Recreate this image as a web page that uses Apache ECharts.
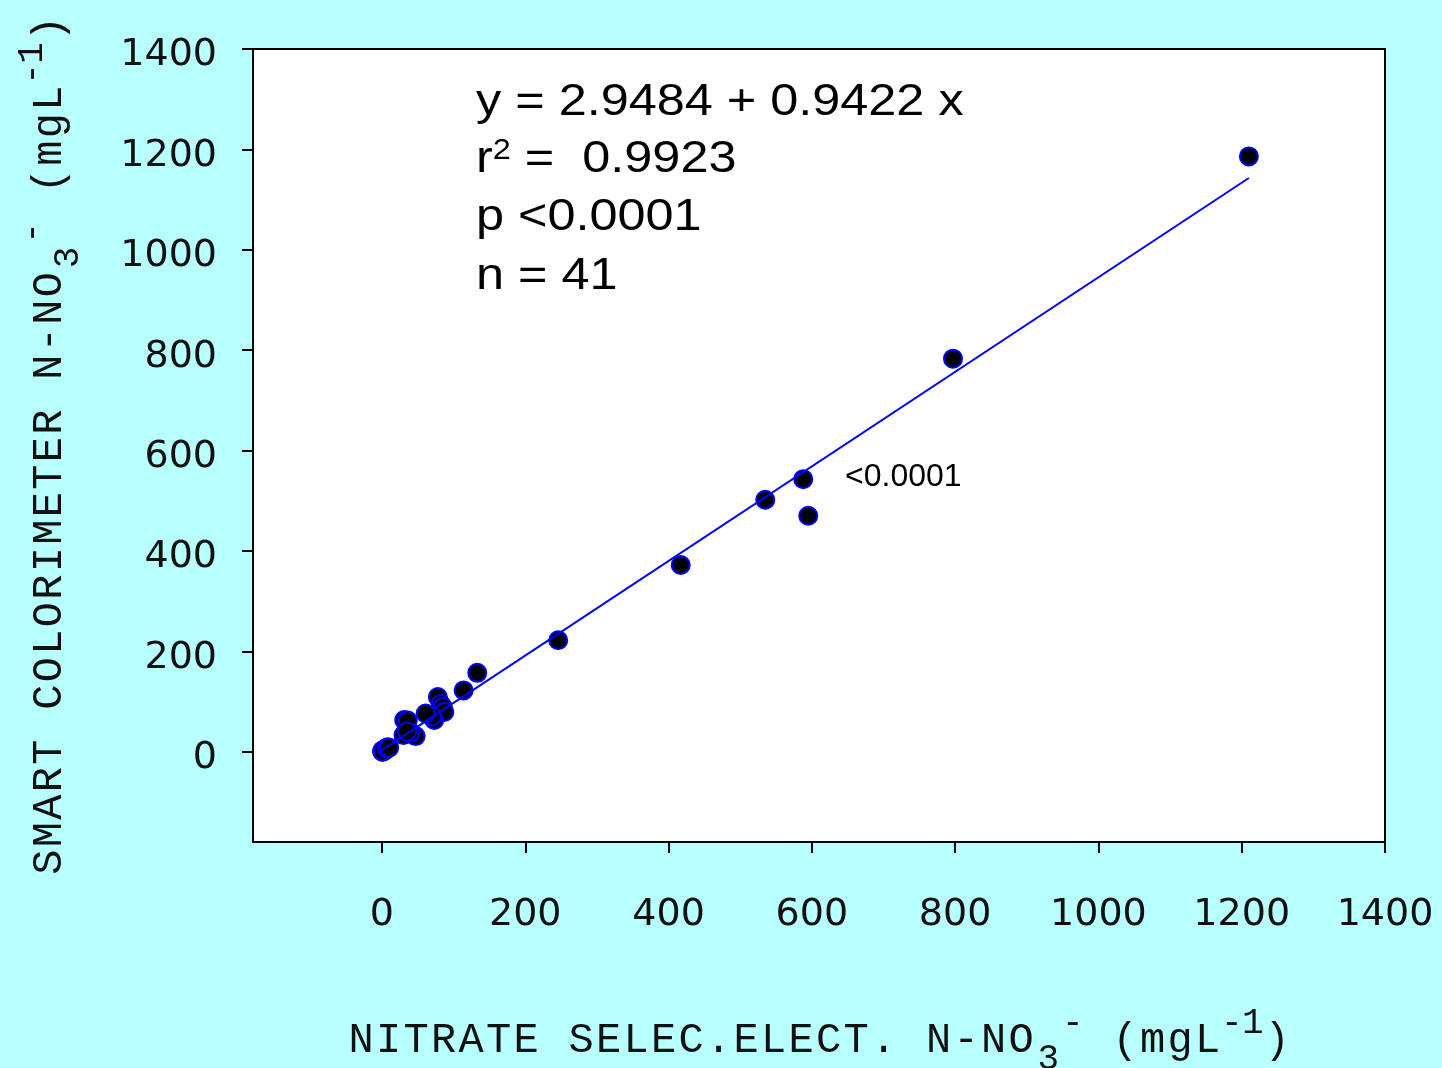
<!DOCTYPE html>
<html>
<head>
<meta charset="utf-8">
<script src="https://cdn.jsdelivr.net/npm/echarts@6/dist/echarts.min.js"></script>
<style>
html,body{margin:0;padding:0;background:#b8ffff;}
#chart{width:1442px;height:1068px;}
</style>
</head>
<body>
<div id="chart"></div>
<script>
// ---- data ----
const xValues = [1210, 797, 588, 595, 535, 417, 246, 133, 114,
  78, 82, 85, 87, 73, 70, 61, 31, 36, 30, 47, 40, 35,
  8, 5, 2, 1, 0.5, 3, 1.5, 0.8, 2.5, 4, 0.3, 6, 1, 2, 0.6, 3.5, 1.2, 7, 10];
const yValues = [1186, 783, 543, 470, 502, 372, 222, 157, 122,
  109, 95, 89, 79, 63, 70, 76, 63, 62, 33, 31, 38, 40,
  9, 6, 3, 1, 0.5, 2, 2, 1.2, 1, 4, 0.4, 5, 2.5, 0.8, 1.6, 3, 0.3, 6.5, 8];
const fitIntercept = 2.9484;
const fitSlope = 0.9422;
const fitRange = [0, 1210];
const xTickValues = [0, 200, 400, 600, 800, 1000, 1200, 1400];
const yTickValues = [0, 200, 400, 600, 800, 1000, 1200, 1400];
const statLines = ['y = 2.9484 + 0.9422 x', 'r2 =  0.9923', 'p <0.0001', 'n = 41'];
const pointNote = '<0.0001';

const points = xValues.map((x, i) => [x, yValues[i]]);
const fitLine = fitRange.map(x => [x, fitIntercept + fitSlope * x]);

// spaced monospace-style title text built with rich tokens
function spaced(str) {
  return str.split('').map(ch => '{c|' + ch + '}').join('');
}
const titleRich = {
  c: {fontFamily: 'Liberation Mono', fontSize: 42, width: 27.5, align: 'center', lineHeight: 72, color: '#111'},
  sub: {fontFamily: 'Liberation Mono', fontSize: 36, width: 27, align: 'center', lineHeight: 40, verticalAlign: 'bottom', color: '#111'},
  supm: {fontFamily: 'Liberation Mono', fontSize: 36, width: 22, align: 'center', lineHeight: 50, verticalAlign: 'top', color: '#111'},
  sup: {fontFamily: 'Liberation Mono', fontSize: 36, width: 21, align: 'center', lineHeight: 20, verticalAlign: 'top', color: '#111'}
};
function unitTitle(main) {
  return spaced(main) + '{sub|3}{supm|-}' + spaced(' (mgL') + '{sup|-}{sup|1}' + spaced(')');
}

const chart = echarts.init(document.getElementById('chart'));
const labelFont = {fontFamily: 'DejaVu Sans', fontSize: 38, color: '#111'};

chart.setOption({
  backgroundColor: '#b8ffff',
  animation: false,
  grid: {left: 253, top: 49, right: 57, bottom: 226, show: true, outerBoundsMode: 'none', containLabel: false,
    backgroundColor: '#ffffff', borderColor: '#000', borderWidth: 2},
  xAxis: {
    type: 'value', min: -180, max: 1400,
    axisLine: {show: true, onZero: false, lineStyle: {color: '#000', width: 2}},
    axisTick: {show: true, length: 11, customValues: xTickValues, lineStyle: {color: '#000', width: 2}},
    axisLabel: Object.assign({customValues: xTickValues, margin: 54, hideOverlap: false,
      formatter: v => String(v)}, labelFont),
    splitLine: {show: false},
    name: unitTitle('NITRATE SELEC.ELECT. N-NO'),
    nameLocation: 'middle', nameGap: 163,
    nameTextStyle: {rich: titleRich}
  },
  yAxis: {
    type: 'value', min: -180, max: 1400,
    axisLine: {show: true, onZero: false, lineStyle: {color: '#000', width: 2}},
    axisTick: {show: true, length: 11, customValues: yTickValues, lineStyle: {color: '#000', width: 2}},
    axisLabel: Object.assign({customValues: yTickValues, margin: 36,
      formatter: v => '{t|' + v + '}',
      rich: {t: {fontFamily: 'DejaVu Sans', fontSize: 38, color: '#111', lineHeight: 40, padding: [13, 0, 0, 0]}}}, labelFont),
    splitLine: {show: false},
    name: unitTitle('SMART COLORIMETER N-NO'),
    nameLocation: 'middle', nameGap: 167, nameRotate: 90,
    nameTextStyle: {rich: titleRich}
  },
  series: [
    {
      type: 'scatter', data: points, symbolSize: 18, z: 2,
      itemStyle: {color: '#000', borderColor: '#0000ff', borderWidth: 2, opacity: 1}
    },
    {
      type: 'line', data: fitLine, showSymbol: false, symbol: 'none', z: 3,
      lineStyle: {color: '#0000ff', width: 2}
    }
  ],
  graphic: [
    {type: 'text', x: 476, y: 103, scaleX: 1.12, z: 10,
      style: {text: statLines[0], font: '45px "Liberation Sans"', fill: '#000', verticalAlign: 'middle'}},
    {type: 'text', x: 476, y: 160, scaleX: 1.12, z: 10,
      style: {text: '{m|r}{s|2}{m| =  0.9923}', verticalAlign: 'middle', fill: '#000',
        rich: {m: {fontFamily: 'Liberation Sans', fontSize: 45, lineHeight: 48, fill: '#000'},
               s: {fontFamily: 'Liberation Sans', fontSize: 29, lineHeight: 20, verticalAlign: 'top', fill: '#000'}}}},
    {type: 'text', x: 476, y: 218, scaleX: 1.12, z: 10,
      style: {text: statLines[2], font: '45px "Liberation Sans"', fill: '#000', verticalAlign: 'middle'}},
    {type: 'text', x: 476, y: 277, scaleX: 1.12, z: 10,
      style: {text: statLines[3], font: '45px "Liberation Sans"', fill: '#000', verticalAlign: 'middle'}},
    {type: 'text', x: 845, y: 477, z: 10,
      style: {text: pointNote, font: '32px "Liberation Sans"', fill: '#000', verticalAlign: 'middle'}}
  ]
});
</script>
</body>
</html>
